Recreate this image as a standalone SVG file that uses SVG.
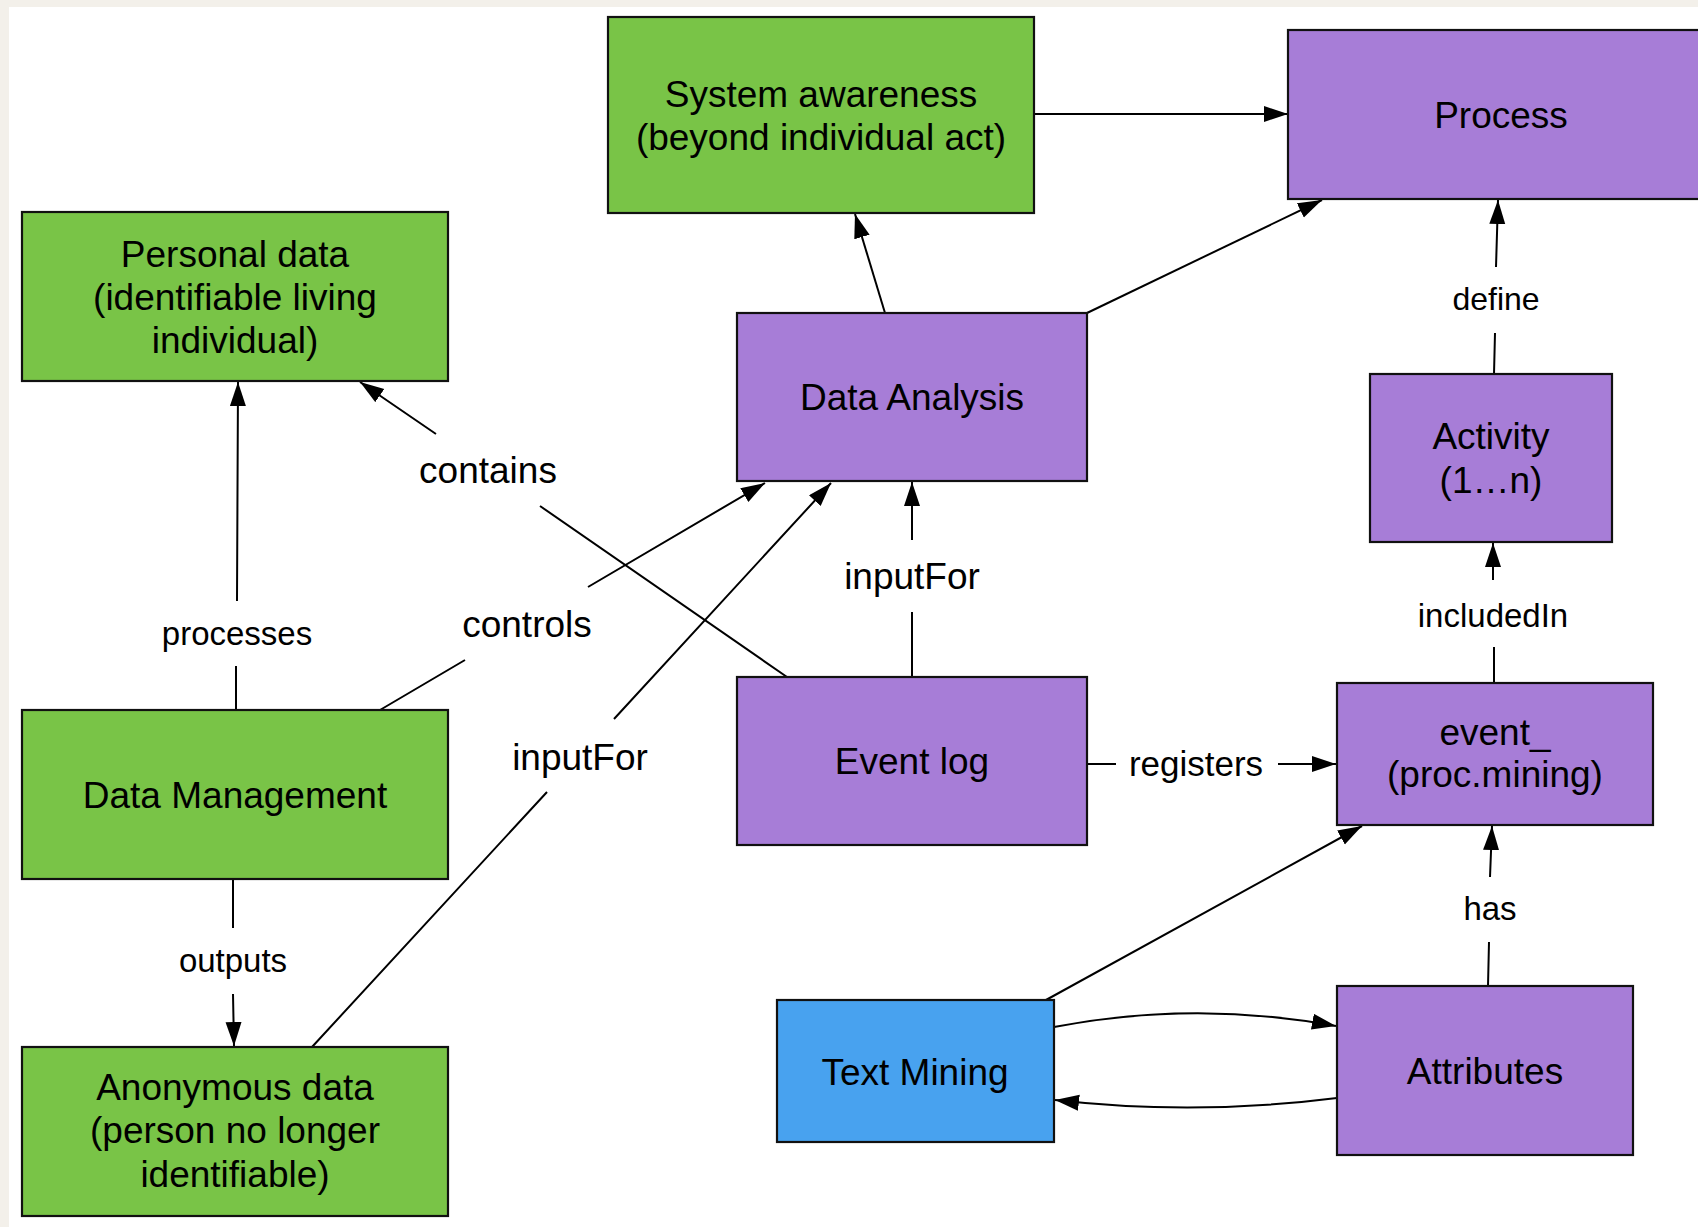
<svg xmlns="http://www.w3.org/2000/svg" width="1698" height="1227" viewBox="0 0 1698 1227">
<style>
.box{stroke:#111;stroke-width:2.2}
.g{fill:#79C447}
.p{fill:#A77DD7}
.b{fill:#48A2EF}
.t{font-family:"Liberation Sans",Arial,Helvetica,sans-serif;font-size:37px;fill:#000;text-anchor:middle}
.l{font-family:"Liberation Sans",Arial,Helvetica,sans-serif;fill:#000;text-anchor:middle}
.c{fill:none;stroke:#000;stroke-width:2;marker-end:url(#arr)}
</style>
<defs>
<marker id="arr" markerUnits="userSpaceOnUse" markerWidth="26" markerHeight="18" refX="24" refY="8" orient="auto" viewBox="0 0 26 18">
<path d="M0,0 L24,8 L0,16 z" fill="#000"/>
</marker>
</defs>
<rect x="0" y="0" width="1698" height="1227" fill="#F3F0EA"/>
<rect x="9" y="7" width="1689" height="1220" fill="#FFFFFF"/>

<g id="connectors">
<path class="c" d="M1034,114 L1288,114"/>
<path class="c" d="M885,313 L855,214"/>
<path class="c" d="M1087,313 L1322,200"/>
<path class="c" d="M1494,374 L1495,333 M1496,267 L1498,200"/>
<path class="c" d="M1494,683 L1494,647 M1493,580 L1493,543"/>
<path class="c" d="M1488,986 L1489,942 M1490,877 L1492,826"/>
<path class="c" d="M1046,1000 L1362,826"/>
<path class="c" d="M1054,1027 Q1195,1000 1336,1026"/>
<path class="c" d="M1337,1098 Q1195,1116 1055,1100"/>
<path class="c" d="M1087,764 L1116,764 M1278,764 L1336,764"/>
<path class="c" d="M912,677 L912,612 M912,540 L912,482"/>
<path class="c" d="M787,677 L540,506 M436,434 L360,382"/>
<path class="c" d="M380,710 L465,660 M588,587 L765,483"/>
<path class="c" d="M312,1047 L547,792 M614,719 L831,483"/>
<path class="c" d="M236,710 L236,666 M237,601 L238,382"/>
<path class="c" d="M233,879 L233,928 M233,994 L234,1046"/>
</g>

<g id="edge-labels">
<text class="l" x="488" y="483" font-size="37">contains</text>
<text class="l" x="527" y="637" font-size="37">controls</text>
<text class="l" x="237" y="645" font-size="33">processes</text>
<text class="l" x="580" y="770" font-size="37">inputFor</text>
<text class="l" x="912" y="589" font-size="37">inputFor</text>
<text class="l" x="1493" y="627" font-size="33">includedIn</text>
<text class="l" x="1196" y="776" font-size="35">registers</text>
<text class="l" x="1496" y="310" font-size="32">define</text>
<text class="l" x="233" y="972" font-size="33">outputs</text>
<text class="l" x="1490" y="920" font-size="33">has</text>
</g>

<g id="node-system-awareness">
<rect class="box g" x="608" y="17" width="426" height="196"/>
<text class="t" x="821" y="107">System awareness</text>
<text class="t" x="821" y="150">(beyond individual act)</text>
</g>
<g id="node-process">
<rect class="box p" x="1288" y="30" width="426" height="169"/>
<text class="t" x="1501" y="128">Process</text>
</g>
<g id="node-personal-data">
<rect class="box g" x="22" y="212" width="426" height="169"/>
<text class="t" x="235" y="267">Personal data</text>
<text class="t" x="235" y="310">(identifiable living</text>
<text class="t" x="235" y="353">individual)</text>
</g>
<g id="node-data-analysis">
<rect class="box p" x="737" y="313" width="350" height="168"/>
<text class="t" x="912" y="410">Data Analysis</text>
</g>
<g id="node-activity">
<rect class="box p" x="1370" y="374" width="242" height="168"/>
<text class="t" x="1491" y="449">Activity</text>
<text class="t" x="1491" y="493">(1…n)</text>
</g>
<g id="node-data-management">
<rect class="box g" x="22" y="710" width="426" height="169"/>
<text class="t" x="235" y="808">Data Management</text>
</g>
<g id="node-event-log">
<rect class="box p" x="737" y="677" width="350" height="168"/>
<text class="t" x="912" y="774">Event log</text>
</g>
<g id="node-event">
<rect class="box p" x="1337" y="683" width="316" height="142"/>
<text class="t" x="1495" y="745">event_</text>
<text class="t" x="1495" y="787">(proc.mining)</text>
</g>
<g id="node-text-mining">
<rect class="box b" x="777" y="1000" width="277" height="142"/>
<text class="t" x="915" y="1085">Text Mining</text>
</g>
<g id="node-attributes">
<rect class="box p" x="1337" y="986" width="296" height="169"/>
<text class="t" x="1485" y="1084">Attributes</text>
</g>
<g id="node-anonymous-data">
<rect class="box g" x="22" y="1047" width="426" height="169"/>
<text class="t" x="235" y="1100">Anonymous data</text>
<text class="t" x="235" y="1143">(person no longer</text>
<text class="t" x="235" y="1187">identifiable)</text>
</g>
</svg>
